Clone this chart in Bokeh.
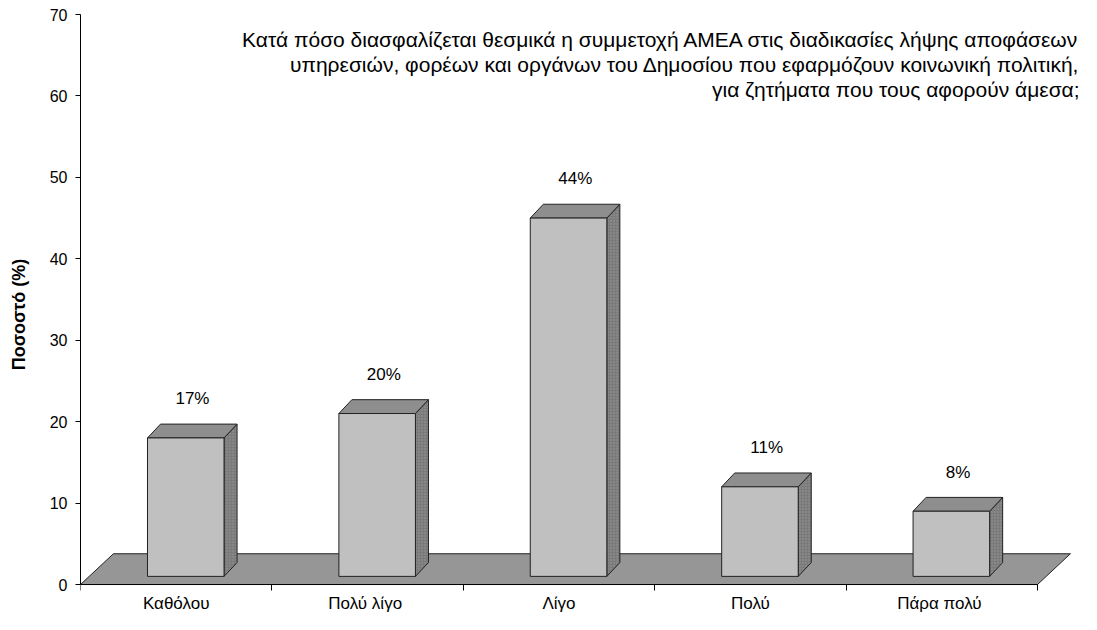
from bokeh.plotting import figure
from bokeh.models import Range1d, FixedTicker, Label
from bokeh.core.properties import value
from bokeh.embed import file_html
from bokeh.resources import INLINE

# ---- data ----
categories = ["Καθόλου", "Πολύ  λίγο", "Λίγο", "Πολύ", "Πάρα  πολύ"]
percentages = [17, 20, 44, 11, 8]
value_labels = ["17%", "20%", "44%", "11%", "8%"]
y_ticks = [0, 10, 20, 30, 40, 50, 60, 70]
title_lines = [
    "Κατά πόσο διασφαλίζεται θεσμικά η συμμετοχή ΑΜΕΑ στις διαδικασίες λήψης αποφάσεων",
    "υπηρεσιών, φορέων και οργάνων του Δημοσίου που εφαρμόζουν κοινωνική πολιτική,",
    "για ζητήματα που τους αφορούν άμεσα;",
]
y_label = "Ποσοστό (%)"

# ---- geometry / style ----
FONT = "Liberation Sans"
TITLE_FONT = "'Liberation Sans Narrow', 'Liberation Sans', Arial, sans-serif"
n = len(categories)
BAR_L, BAR_R = 0.35, 0.75      # front face within category slot
BASE = 1.0                     # bar front bottom (depth offset)
DXB, DYB = 0.068, 1.7          # bar depth
DXF, DYF = 0.172, 3.78         # floor depth

p = figure(width=1081, height=614, output_backend="svg", toolbar_location=None,
           x_range=Range1d(0, 5.23), y_range=Range1d(-3.68, 70.0),
           min_border_left=80, min_border_right=0, min_border_top=14,
           min_border_bottom=0)
p.outline_line_color = None
p.xgrid.visible = False
p.ygrid.visible = False
p.background_fill_color = "white"
p.border_fill_color = "white"

# floor
p.patch([0, n, n + DXF, DXF], [0, 0, DYF, DYF], fill_color="#969696",
        line_color="#222222", line_width=1)

# bars
front_xs, front_ys, side_xs, side_ys, top_xs, top_ys = [], [], [], [], [], []
for i, v in enumerate(percentages):
    l, r = i + BAR_L, i + BAR_R
    b, t = BASE, BASE + v
    front_xs.append([l, r, r, l]); front_ys.append([b, b, t, t])
    side_xs.append([r, r + DXB, r + DXB, r]); side_ys.append([b, b + DYB, t + DYB, t])
    top_xs.append([l, r, r + DXB, l + DXB]); top_ys.append([t, t, t + DYB, t + DYB])

p.patches(side_xs, side_ys, fill_color="#7a7a7a", line_color="#222222", line_width=1,
          hatch_pattern="dot", hatch_color="#9a9a9a", hatch_scale=3, hatch_weight=1)
p.patches(top_xs, top_ys, fill_color="#8e8e8e", line_color="#222222", line_width=1)
p.patches(front_xs, front_ys, fill_color="#c0c0c0", line_color="#222222", line_width=1)

# value labels
p.text(x=[i + 0.585 for i in range(n)], y=[v + 5.8 for v in percentages],
       text=value_labels, text_align="center", text_baseline="middle",
       text_font=value(FONT), text_font_size="17px", text_color="#000000")

# title lines
for k, line in enumerate(title_lines):
    p.add_layout(Label(x=5.22, y=66.9 - 3.05 * k, text=line, text_align="right",
                       text_baseline="middle", text_font=TITLE_FONT,
                       text_font_size="21px", text_color="#000000"))

# x axis
xa = p.xaxis[0]
xa.fixed_location = 0
xa.ticker = FixedTicker(ticks=[i + 0.5 for i in range(n)],
                        minor_ticks=list(range(n + 1)))
xa.major_label_overrides = {i + 0.5: c for i, c in enumerate(categories)}
xa.bounds = (0, n)
xa.major_tick_line_color = None
xa.major_tick_out = 0
xa.major_tick_in = 0
xa.minor_tick_line_color = "#000000"
xa.minor_tick_out = 6
xa.minor_tick_in = 0
xa.axis_line_color = "#000000"
xa.major_label_standoff = 3
xa.major_label_text_font = FONT
xa.major_label_text_font_size = "17px"
xa.major_label_text_color = "#000000"

# y axis
ya = p.yaxis[0]
ya.ticker = FixedTicker(ticks=y_ticks, minor_ticks=[])
ya.bounds = (0, 70)
ya.major_tick_out = 5
ya.major_tick_in = 0
ya.axis_line_color = "#000000"
ya.major_tick_line_color = "#000000"
ya.major_label_standoff = 8
ya.major_label_text_font = FONT
ya.major_label_text_font_size = "16px"
ya.major_label_text_color = "#000000"
ya.axis_label = y_label
ya.axis_label_text_font = FONT
ya.axis_label_text_font_style = "bold"
ya.axis_label_text_font_size = "18px"
ya.axis_label_standoff = 18
ya.axis_label_text_color = "#000000"

open("out.html", "w").write(file_html(p, INLINE))
